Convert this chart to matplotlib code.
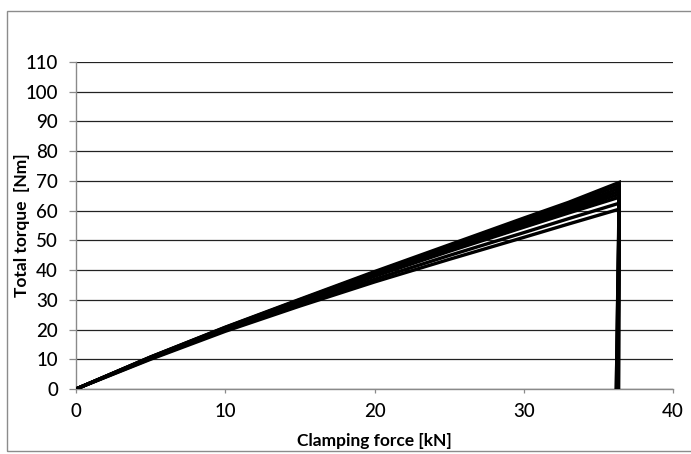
import matplotlib
matplotlib.use("Agg")
import matplotlib.pyplot as plt
from matplotlib.patches import Rectangle

# Clamping force sample points [kN] along the loading ramp
force = [0, 5, 10, 15, 20, 25, 30, 33, 36.4]

# Total torque [Nm] for each tightening test at the sample points above
torque_runs = [
    [0, 10.8, 20.8, 30.2, 39.5, 48.5, 57.5, 62.8, 69.5],
    [0, 10.75, 20.7, 30.0, 39.2, 48.0, 56.9, 62.0, 68.5],
    [0, 10.7, 20.6, 29.8, 38.9, 47.6, 56.2, 61.2, 67.5],
    [0, 10.6, 20.4, 29.6, 38.6, 47.2, 55.6, 60.6, 66.5],
    [0, 10.5, 20.3, 29.4, 38.3, 46.8, 55.1, 60.0, 65.5],
    [0, 10.4, 20.1, 29.1, 37.9, 46.3, 54.4, 59.2, 64.5],
    [0, 10.2, 19.8, 28.5, 36.9, 44.9, 52.6, 57.3, 62.5],
    [0, 10.0, 19.4, 27.9, 36.0, 43.6, 51.0, 55.5, 60.5],
]

# Clamping force at which each run is released (torque drops to zero)
release_force = [36.3, 36.2, 36.35, 36.25, 36.3, 36.2, 36.35, 36.3]

x_ticks = [0, 10, 20, 30, 40]
y_ticks = [0, 10, 20, 30, 40, 50, 60, 70, 80, 90, 100, 110]

plt.rcParams["font.family"] = ["Lato", "DejaVu Sans"]

fig = plt.figure(figsize=(6.91, 4.54), dpi=100)
ax = fig.add_axes([76 / 691, 1 - 389 / 454, 597 / 691, 327 / 454])

for run, x_end in zip(torque_runs, release_force):
    xs = list(force) + [x_end]
    ys = list(run) + [0]
    ax.plot(xs, ys, color="black", lw=2.4, solid_joinstyle="miter", zorder=3)

ax.set_xlim(0, 40)
ax.set_ylim(0, 110)
ax.set_xticks(x_ticks)
ax.set_yticks(y_ticks)
ax.grid(axis="y", color="#222222", lw=0.9)
ax.set_axisbelow(True)

for side in ("top", "right"):
    ax.spines[side].set_visible(False)
for side in ("left", "bottom"):
    ax.spines[side].set_color("#8a8a8a")
    ax.spines[side].set_linewidth(1.0)

ax.tick_params(axis="y", length=5, width=0.9, color="#8a8a8a", pad=8, labelsize=13.5)
ax.tick_params(axis="x", length=3, width=0.9, color="#8a8a8a", pad=7, labelsize=13.5)
for lbl in ax.get_xticklabels() + ax.get_yticklabels():
    lbl.set_fontweight("medium")

ax.set_xlabel("Clamping force [kN]", fontsize=12.5, fontweight="bold", va="center")
ax.set_ylabel("Total torque  [Nm]", fontsize=12.5, fontweight="bold", va="center")
ax.xaxis.set_label_coords(0.5, -0.158)
ax.yaxis.set_label_coords(-0.09, 0.5)

# Chart-area frame
fig.patches.append(Rectangle((7 / 691, 1 - 451 / 454), 1.0, 440 / 454,
                             transform=fig.transFigure, fill=False,
                             edgecolor="#8c8c8c", lw=1.0))

fig.savefig("out.png", dpi=100)
